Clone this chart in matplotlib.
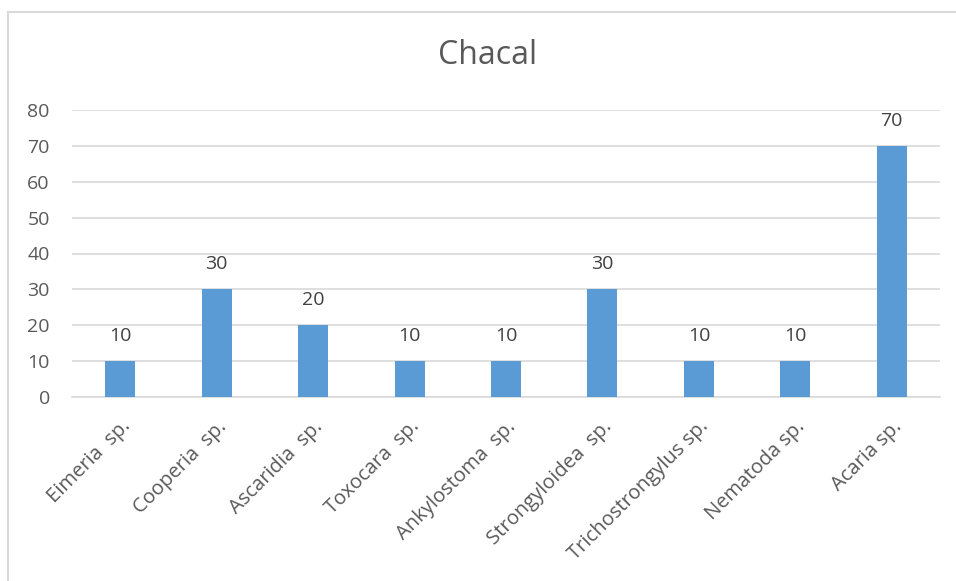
import matplotlib.pyplot as plt
from matplotlib.lines import Line2D

plt.rcParams['font.family'] = ['Open Sans', 'DejaVu Sans']

categories = ["Eimeria  sp.", "Cooperia  sp.", "Ascaridia  sp.", "Toxocara  sp.",
              "Ankylostoma  sp.", "Strongyloidea  sp.", "Trichostrongylus sp.",
              "Nematoda sp.", "Acaria sp."]
values = [10, 30, 20, 10, 10, 30, 10, 10, 70]
yticks = [0, 10, 20, 30, 40, 50, 60, 70, 80]

text_color = '#595959'
grid_color = '#d9d9d9'

fig = plt.figure(figsize=(9.56, 5.81), dpi=100)
ax = fig.add_axes([72 / 956, 1 - 397 / 581, 868 / 956, 287 / 581])

x = range(len(categories))
bars = ax.bar(x, values, width=0.31, color='#5B9BD5', zorder=3)
for b, v in zip(bars, values):
    ax.text(b.get_x() + b.get_width() / 2, v + 7.0, str(v), ha='center', va='center',
            fontsize=14, color='#404040')

ax.set_xlim(-0.5, len(categories) - 0.5)
ax.set_ylim(0, 80)
ax.set_yticks(yticks)
ax.yaxis.grid(True, color=grid_color, linewidth=1.2, zorder=0)
for s in ['top', 'right', 'left']:
    ax.spines[s].set_visible(False)
ax.spines['bottom'].set_color(grid_color)
ax.spines['bottom'].set_linewidth(1.2)
ax.tick_params(axis='both', length=0, labelsize=14, colors=text_color)
ax.tick_params(axis='y', pad=16)
ax.set_xticks(list(x))
ax.set_xticklabels(categories, rotation=45, ha='right', rotation_mode='anchor', fontsize=14.5)
ax.tick_params(axis='x', pad=14)

fig.text(488 / 956, 1 - 55 / 581, "Chacal", ha='center', va='center', fontsize=23, color=text_color)

# chart border (partially cropped)
fig.add_artist(Line2D([8 / 956, 1], [1 - 12 / 581, 1 - 12 / 581], color=grid_color, linewidth=1.5))
fig.add_artist(Line2D([8 / 956, 8 / 956], [0, 1 - 12 / 581], color=grid_color, linewidth=1.5))

fig.savefig('out.png', dpi=100)
